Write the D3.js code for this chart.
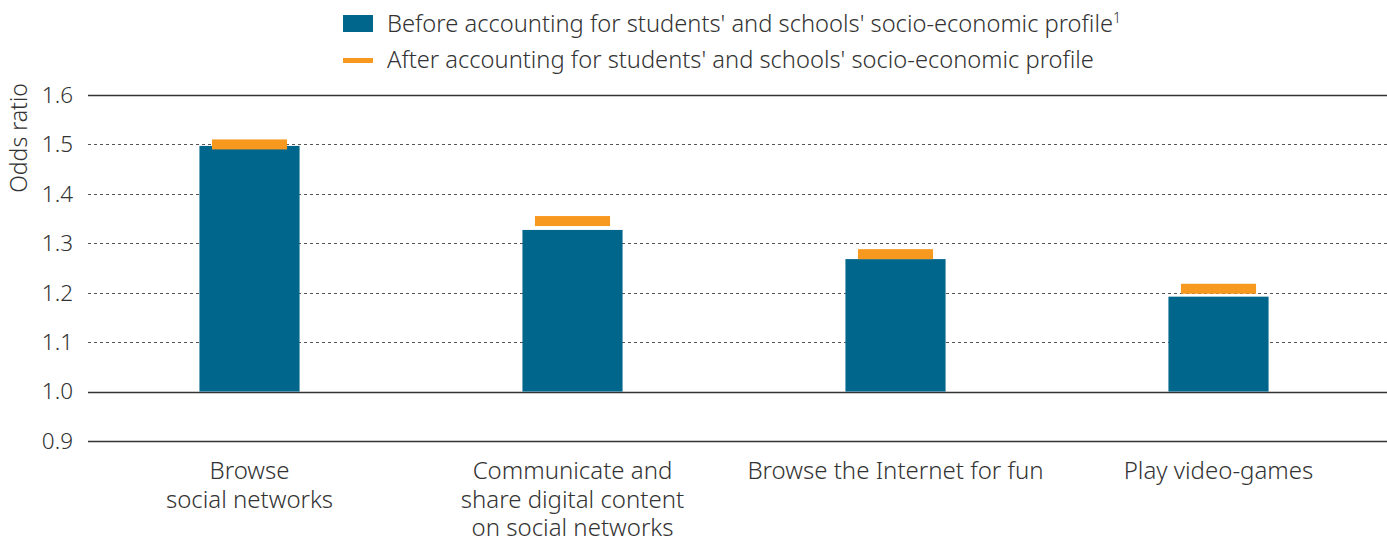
<!DOCTYPE html>
<html>
<head>
<meta charset="utf-8">
<script src="https://cdn.jsdelivr.net/npm/d3@7"></script>
<style>
  body { margin: 0; background: #fff; }
  svg { font-family: "Noto Sans", sans-serif; font-weight: 300; fill: #333; }
</style>
</head>
<body>
<svg id="chart" width="1387" height="539"></svg>
<script>
// chart values
var categories = [
  ['Browse', 'social networks'],
  ['Communicate and', 'share digital content', 'on social networks'],
  ['Browse the Internet for fun'],
  ['Play video-games']
]
var beforeValues = [1.497, 1.327, 1.268, 1.192]
var afterValues = [1.500, 1.345, 1.278, 1.208]
var yTicks = [0.9, 1.0, 1.1, 1.2, 1.3, 1.4, 1.5, 1.6]

var blue = '#00668c'
var orange = '#f7981f'

var svg = d3.select('#chart')
var plotLeft = 88, plotRight = 1380, plotTop = 95, plotBottom = 441

var x = d3.scaleBand()
  .domain(d3.range(categories.length))
  .range([plotLeft, plotRight])
  .paddingInner(0.69)
  .paddingOuter(0.345)

var y = d3.scaleLinear().domain([0.9, 1.6]).range([plotBottom, plotTop])

function isSolid (d) { return d === 0.9 || d === 1.0 || d === 1.6 }

// gridlines
svg.append('g')
  .selectAll('line')
  .data(yTicks)
  .join('line')
  .attr('x1', plotLeft)
  .attr('x2', 1387)
  .attr('y1', d => Math.round(y(d)) + 0.5)
  .attr('y2', d => Math.round(y(d)) + 0.5)
  .attr('stroke', d => isSolid(d) ? '#333' : '#555')
  .attr('stroke-width', d => isSolid(d) ? 1.3 : 1)
  .attr('stroke-dasharray', d => isSolid(d) ? null : '3,3')

// y tick labels
svg.append('g')
  .selectAll('text')
  .data(yTicks)
  .join('text')
  .attr('x', 73)
  .attr('y', d => y(d))
  .attr('dy', '0.35em')
  .attr('text-anchor', 'end')
  .style('font-size', '22.5px')
  .text(d => d3.format('.1f')(d))

svg.append('text')
  .attr('transform', 'translate(27,138) rotate(-90)')
  .attr('text-anchor', 'middle')
  .style('font-size', '23px')
  .text('Odds ratio')

// bars
svg.append('g')
  .selectAll('rect')
  .data(beforeValues)
  .join('rect')
  .attr('x', (d, i) => x(i))
  .attr('width', x.bandwidth())
  .attr('y', d => y(d))
  .attr('height', d => y(1.0) - y(d))
  .attr('fill', blue)

// after markers
var markW = x.bandwidth() * 0.75
svg.append('g')
  .selectAll('rect')
  .data(afterValues)
  .join('rect')
  .attr('x', (d, i) => x(i) + (x.bandwidth() - markW) / 2)
  .attr('width', markW)
  .attr('y', d => y(d) - 5)
  .attr('height', 10)
  .attr('fill', orange)

// x labels
var xl = svg.append('g')
  .selectAll('text')
  .data(categories)
  .join('text')
  .attr('x', (d, i) => x(i) + x.bandwidth() / 2)
  .attr('y', 479)
  .attr('text-anchor', 'middle')
  .style('font-size', '24px')
xl.selectAll('tspan')
  .data(d => d)
  .join('tspan')
  .attr('x', function () { return d3.select(this.parentNode).attr('x') })
  .attr('dy', (d, i) => i === 0 ? 0 : 28.5)
  .text(d => d)

// legend
var lg = svg.append('g')
lg.append('rect').attr('x', 343).attr('y', 15).attr('width', 30).attr('height', 17).attr('fill', blue)
lg.append('rect').attr('x', 343).attr('y', 58).attr('width', 30).attr('height', 5).attr('fill', orange)
var t1 = lg.append('text').attr('x', 387).attr('y', 32).style('font-size', '23.7px')
t1.append('tspan').text("Before accounting for students' and schools' socio-economic profile")
t1.append('tspan').attr('dy', -9).style('font-size', '14px').text('1')
lg.append('text').attr('x', 387).attr('y', 68).style('font-size', '23.7px')
  .text("After accounting for students' and schools' socio-economic profile")
</script>
</body>
</html>
